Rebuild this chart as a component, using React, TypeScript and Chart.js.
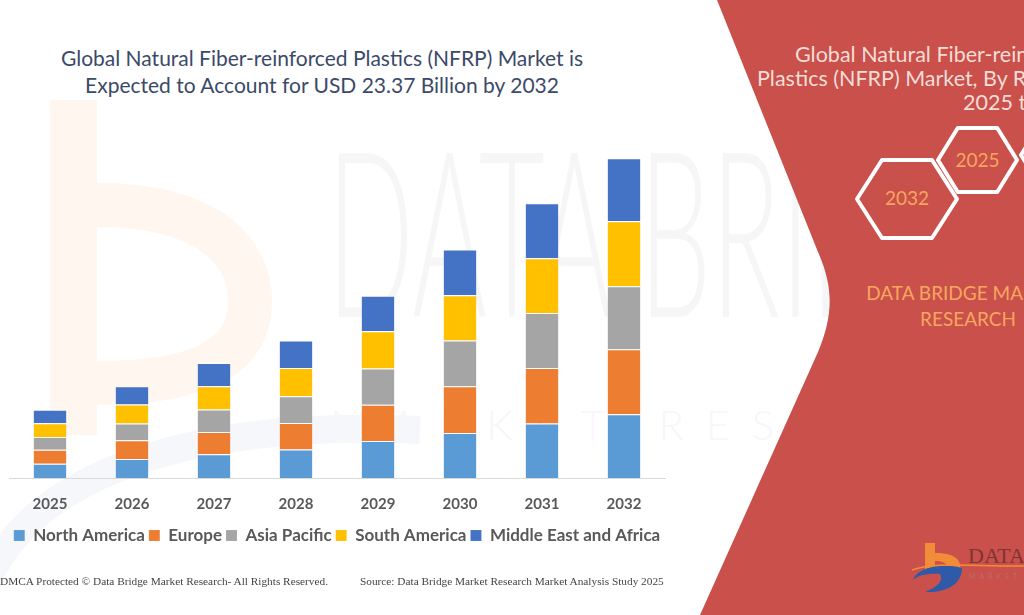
import React, { useEffect, useRef } from "react";
import { Chart, registerables } from "chart.js";

Chart.register(...registerables);

// ---- data (USD billion) ----
const years = ["2025", "2026", "2027", "2028", "2029", "2030", "2031", "2032"];
const northAmerica = [1.05, 1.39, 1.73, 2.08, 2.7, 3.29, 3.98, 4.66];
const europe = [1.02, 1.37, 1.63, 1.94, 2.65, 3.41, 4.06, 4.75];
const asiaPacific = [0.92, 1.22, 1.64, 1.95, 2.65, 3.36, 4.02, 4.61];
const southAmerica = [1.02, 1.39, 1.7, 2.07, 2.73, 3.29, 4.0, 4.75];
const middleEastAfrica = [0.98, 1.34, 1.7, 2.02, 2.59, 3.36, 4.02, 4.61];
const seriesNames = ["North America", "Europe", "Asia Pacific", "South America", "Middle East and Africa"];
const seriesValues = [northAmerica, europe, asiaPacific, southAmerica, middleEastAfrica];
const seriesColors = ["#5b9bd5", "#ed7d31", "#a5a5a5", "#ffc000", "#4472c4"];
const yMax = 25;

const RED = "#c9504b";
const ORANGE_TXT = "#f7a65e";

function hexPoints(cx: number, cy: number, w: number, h: number) {
  return [
    [cx - w, cy],
    [cx - w / 2, cy - h],
    [cx + w / 2, cy - h],
    [cx + w, cy],
    [cx + w / 2, cy + h],
    [cx - w / 2, cy + h],
  ]
    .map((p) => p.join(","))
    .join(" ");
}

export default function App() {
  const canvasRef = useRef<HTMLCanvasElement>(null);

  useEffect(() => {
    const chart = new Chart(canvasRef.current!, {
      type: "bar",
      data: {
        labels: years,
        datasets: seriesNames.map((name, i) => ({
          label: name,
          data: seriesValues[i],
          backgroundColor: seriesColors[i],
          borderColor: "rgba(255,255,255,0.45)",
          borderWidth: { top: 1, right: 0, bottom: 0, left: 0 },
          borderSkipped: false,
          categoryPercentage: 0.8,
          barPercentage: 0.5,
        })),
      },
      options: {
        animation: false,
        responsive: false,
        layout: { padding: { top: 136, left: 9, right: 15, bottom: 61 } },
        scales: {
          x: {
            stacked: true,
            grid: { display: false },
            border: { color: "#d9d9d9", width: 1 },
            ticks: {
              color: "#595959",
              padding: 9.5,
              font: { family: "Lato", size: 15, weight: "bold" },
            },
          },
          y: { stacked: true, display: false, min: 0, max: yMax },
        },
        plugins: {
          legend: {
            position: "bottom",
            labels: {
              boxWidth: 11,
              boxHeight: 11,
              padding: 4,
              color: "#595959",
              font: { family: "Lato", size: 17, weight: "bold" },
            },
          },
          tooltip: { enabled: false },
          title: { display: false },
        },
      },
    });
    return () => chart.destroy();
  }, []);

  const abs = (extra: React.CSSProperties): React.CSSProperties => ({
    position: "absolute",
    whiteSpace: "nowrap",
    ...extra,
  });

  return (
    <div
      style={{
        position: "fixed",
        left: 0,
        top: 0,
        width: 1024,
        height: 615,
        overflow: "hidden",
        background: "#ffffff",
        fontFamily: "Lato, 'Noto Sans', sans-serif",
      }}
    >
      <svg width={1024} height={615} style={{ position: "absolute", left: 0, top: 0 }}>
        {/* faint watermark: orange b */}
        <rect x={50} y={100} width={47} height={335} fill="#fef6ef" />
        <path
          d="M 97 205 C 225 205 250 265 250 300 C 250 355 205 383 97 383"
          fill="none"
          stroke="#fef6ef"
          strokeWidth={44}
        />
        {/* faint blue swoosh */}
        <path d="M -20 600 C 20 470 200 420 420 430" fill="none" stroke="#f5f7fb" strokeWidth={28} />
        {/* faint DATA BRIDGE text */}
        <text
          x={327}
          y={317}
          fontFamily="Lato"
          fontWeight={300}
          fontSize={232}
          fill="#f6f6f6"
          textLength={720}
          lengthAdjust="spacingAndGlyphs"
        >
          DATA BRIDGE
        </text>
        <text
          x={330}
          y={440}
          fontFamily="Lato"
          fontWeight={300}
          fontSize={42}
          fill="#f7f7f7"
          textLength={690}
          lengthAdjust="spacing"
        >
          MARKET RESEARCH
        </text>
        {/* red panel */}
        <path
          d="M 717 0 L 1024 0 L 1024 615 L 700 615 L 818 352 C 832 318 835 290 818 252 Z"
          fill={RED}
        />
        {/* hexagons */}
        <polygon
          points={hexPoints(907, 199, 50, 39)}
          fill="none"
          stroke="#ffffff"
          strokeWidth={4}
          strokeLinejoin="round"
        />
        <polygon
          points={hexPoints(977.5, 160, 39.5, 32)}
          fill="none"
          stroke="#ffffff"
          strokeWidth={4}
          strokeLinejoin="round"
        />
        <polygon
          points={hexPoints(1061, 155, 40, 32)}
          fill="none"
          stroke="#ffffff"
          strokeWidth={4}
          strokeLinejoin="round"
        />
        {/* bottom-right logo */}
        <rect x={925} y={543} width={10} height={28} fill="#f28c38" />
        <path d="M 935 553 C 955 553 962 560 960 570 L 948 570 C 948 563 943 561 935 561 Z" fill="#f28c38" />
        <path
          d="M 913 580 C 918 566 945 563 962 568 C 962 585 945 593 925 592 C 938 587 944 580 940 574 C 928 573 918 575 913 580 Z"
          fill="#2e5aa8"
        />
        <path d="M 912 570 C 935 562 965 566 1024 566" fill="none" stroke="#f28c38" strokeWidth={1.5} />
        <text x={968} y={563} fontFamily="Liberation Serif" fontSize={22} fill="#7e3535">
          DATA B
        </text>
        <text x={969} y={579} fontFamily="Lato" fontSize={7} fill="#b86e6a" letterSpacing={4}>
          MARKET
        </text>
      </svg>

      {/* main title */}
      <div
        style={abs({
          left: 0,
          top: 44,
          width: 644,
          textAlign: "center",
          fontSize: 21,
          lineHeight: "27px",
          color: "#3b4a68",
        })}
      >
        Global Natural Fiber-reinforced Plastics (NFRP) Market is
        <br />
        Expected to Account for USD 23.37 Billion by 2032
      </div>

      <canvas
        ref={canvasRef}
        width={680}
        height={615}
        style={{ position: "absolute", left: 0, top: 0, width: 680, height: 615 }}
      />

      {/* footer */}
      <div
        style={abs({
          left: 0,
          top: 574,
          fontFamily: "'Liberation Serif', serif",
          fontSize: 11.3,
          lineHeight: "14px",
          color: "#444444",
        })}
      >
        DMCA Protected © Data Bridge Market Research- All Rights Reserved.
      </div>
      <div
        style={abs({
          left: 360,
          top: 574,
          fontFamily: "'Liberation Serif', serif",
          fontSize: 11.3,
          lineHeight: "14px",
          color: "#444444",
        })}
      >
        Source: Data Bridge Market Research Market Analysis Study 2025
      </div>

      {/* right panel texts */}
      <div style={abs({ left: 795, top: 42, fontSize: 21.5, lineHeight: "24px", color: "#f6ddd6" })}>
        Global Natural Fiber-reinforced
      </div>
      <div style={abs({ left: 757, top: 66, fontSize: 21.5, lineHeight: "24px", color: "#f6ddd6" })}>
        Plastics (NFRP) Market, By Region,
      </div>
      <div style={abs({ left: 963, top: 90, fontSize: 21.5, lineHeight: "24px", color: "#f6ddd6" })}>
        2025 to 2032
      </div>
      <div
        style={abs({
          left: 937.5,
          top: 148,
          width: 80,
          textAlign: "center",
          fontSize: 19,
          lineHeight: "24px",
          color: ORANGE_TXT,
        })}
      >
        2025
      </div>
      <div
        style={abs({
          left: 857,
          top: 186,
          width: 100,
          textAlign: "center",
          fontSize: 19,
          lineHeight: "24px",
          color: ORANGE_TXT,
        })}
      >
        2032
      </div>
      <div
        style={abs({
          left: 818,
          top: 280,
          width: 300,
          textAlign: "center",
          fontSize: 19,
          lineHeight: "26px",
          color: ORANGE_TXT,
        })}
      >
        DATA BRIDGE MARKET
        <br />
        RESEARCH
      </div>
    </div>
  );
}
